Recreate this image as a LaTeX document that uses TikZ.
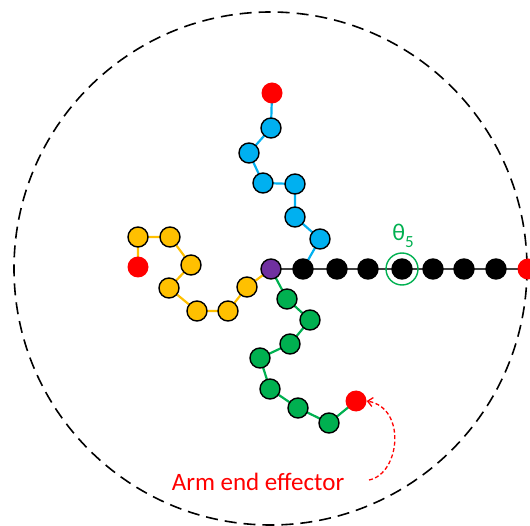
\documentclass[tikz,border=0pt]{standalone}
\usepackage{fontspec}
\setmainfont{Carlito}
\usetikzlibrary{arrows.meta}
\definecolor{armblue}{HTML}{00B0F0}
\definecolor{armyellow}{HTML}{FFC000}
\definecolor{armgreen}{HTML}{00B050}
\definecolor{armpurple}{HTML}{7030A0}
\definecolor{armred}{HTML}{FF0000}
\definecolor{armgray}{HTML}{404040}
\pgfdeclarelayer{links}
\pgfsetlayers{links,main}
\tikzset{
  joint/.style={circle, draw=black, line width=1.4pt, minimum size=20pt, inner sep=0pt},
  blk/.style={joint, fill=black},
  blu/.style={joint, fill=armblue},
  yel/.style={joint, fill=armyellow},
  grn/.style={joint, fill=armgreen},
  base/.style={joint, fill=armpurple},
  tipnode/.style={circle, fill=armred, draw=none, minimum size=21pt, inner sep=0pt},
  link/.style={line width=2.2pt},
}
\begin{document}
\begin{tikzpicture}[x=1pt,y=-1pt]
\useasboundingbox (0,0) rectangle (530,526);
\clip (0,0) rectangle (530,526);

% workspace boundary
\draw[black, line width=1.6pt, dash pattern=on 12pt off 7pt] (270.5,268.5) circle[radius=256.5];

% base joint
\node[base] (p) at (271,269) {};

% straight chain (black)
\node[blk] (k1) at (303,269) {};
\node[blk] (k2) at (337,269) {};
\node[blk] (k3) at (368,269) {};
\node[blk] (k4) at (402,269) {};
\node[blk] (k5) at (433,269) {};
\node[blk] (k6) at (464,269) {};
\node[blk] (k7) at (496,269) {};
\node[tipnode] (ke) at (528,269) {};
\node[circle, draw=armgreen, line width=1.4pt, minimum size=32pt, inner sep=0pt] (ring) at (k4) {};
\node[text=armgreen, font=\fontsize{24}{26}\selectfont, inner sep=0pt] (th) at (403,236)
  {θ\raisebox{-0.28em}{\fontsize{17}{18}\selectfont 5}};

% blue chain
\node[blu] (b1) at (320,239) {};
\node[blu] (b2) at (295,217) {};
\node[blu] (b3) at (295,184) {};
\node[blu] (b4) at (263,183) {};
\node[blu] (b5) at (249,153) {};
\node[blu] (b6) at (271,128) {};
\node[tipnode] (be) at (272,93) {};

% yellow chain
\node[yel] (y1) at (247,287) {};
\node[yel] (y2) at (228,311) {};
\node[yel] (y3) at (197,311) {};
\node[yel] (y4) at (169,288) {};
\node[yel] (y5) at (191,265) {};
\node[yel] (y6) at (170,237) {};
\node[yel] (y7) at (138,237) {};
\node[tipnode] (ye) at (138,267) {};

% green chain
\node[grn] (g1) at (287,299) {};
\node[grn] (g2) at (310,320) {};
\node[grn] (g3) at (290,344) {};
\node[grn] (g4) at (260,358) {};
\node[grn] (g5) at (270,389) {};
\node[grn] (g6) at (298,408) {};
\node[grn] (g7) at (329,423) {};
\node[tipnode] (ge) at (356,401) {};

% links
\begin{pgfonlayer}{links}
  \draw[link, armgray] (p.center) -- (k1.center) -- (k2.center) -- (k3.center) -- (k4.center)
    -- (k5.center) -- (k6.center) -- (k7.center) -- (ke.center);
  \draw[link, armblue] (k1.center) -- (b1.center) -- (b2.center) -- (b3.center) -- (b4.center)
    -- (b5.center) -- (b6.center) -- (be.center);
  \draw[link, armyellow] (p.center) -- (y1.center) -- (y2.center) -- (y3.center) -- (y4.center)
    -- (y5.center) -- (y6.center) -- (y7.center) -- (ye.center);
  \draw[link, armgreen] (p.center) -- (g1.center) -- (g2.center) -- (g3.center) -- (g4.center)
    -- (g5.center) -- (g6.center) -- (g7.center) -- (ge.center);
\end{pgfonlayer}

% end effector annotation
\node[text=armred, font=\fontsize{25}{28}\selectfont, inner sep=0pt] (lbl) at (258,482) {Arm end effector};
\coordinate (ls) at (369,480);
\draw[armred, line width=1.3pt, dash pattern=on 4pt off 2.5pt, -{Straight Barb[length=5pt,width=9pt]}]
  (ls) .. controls (400,474) and (407,408) .. (ge.east);
\end{tikzpicture}
\end{document}
